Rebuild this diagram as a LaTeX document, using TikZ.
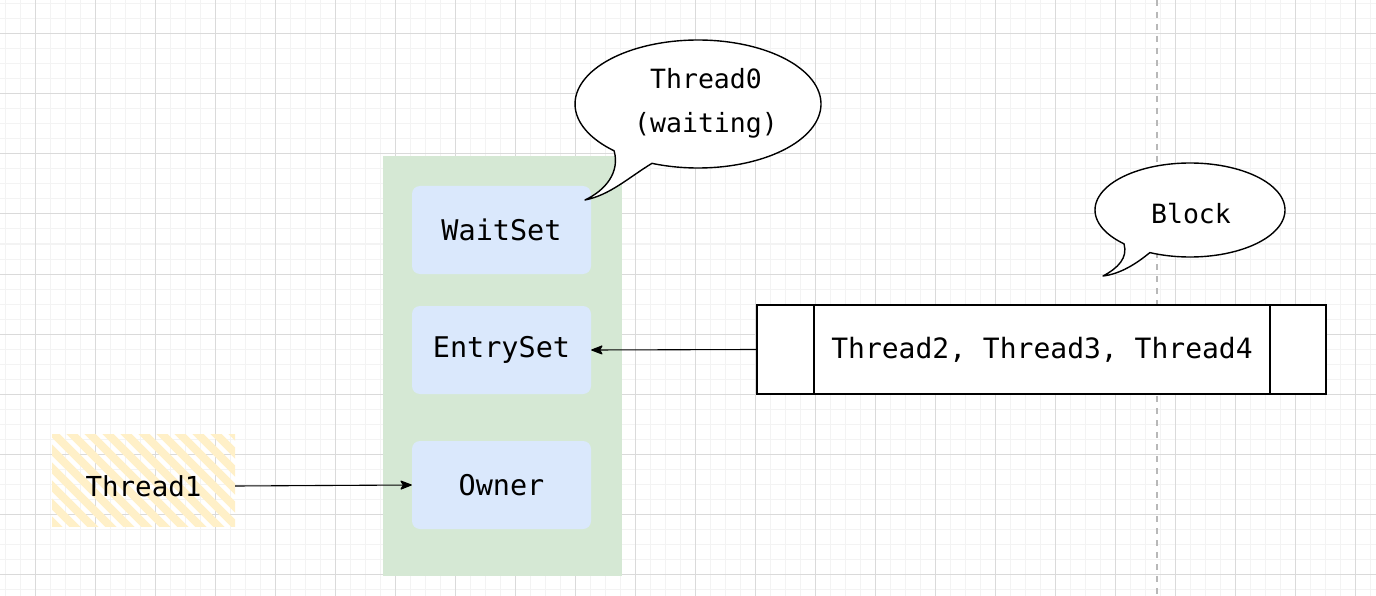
\documentclass[tikz,border=0pt]{standalone}
\usepackage{fontspec}
\newfontfamily\hand{DejaVu Sans Mono}
\usetikzlibrary{arrows.meta}
\definecolor{gridminor}{HTML}{F3F3F3}
\definecolor{gridmajor}{HTML}{DADADA}
\definecolor{greenbg}{HTML}{D5E8D4}
\definecolor{bluebox}{HTML}{DAE8FC}
\definecolor{hatchc}{HTML}{FFF0C8}
\definecolor{dashc}{HTML}{B8B8B8}
\begin{document}
\begin{tikzpicture}[x=1pt,y=-1pt,
  txt/.style={font=\hand\fontsize{28}{44}\selectfont, text=black},
  ctxt/.style={font=\hand\fontsize{26.5}{44}\selectfont, text=black, align=center},
  setbox/.style={font=\hand\fontsize{28.5}{44}\selectfont, text=black, fill=bluebox, rounded corners=8, minimum width=179, minimum height=88, inner sep=0},
  arr/.style={draw=black, line width=1.1pt, -{Stealth[length=13pt,width=10pt,inset=3pt,round]}},
  bubble/.style={draw=black, fill=white, line width=1.4pt, line join=round},
  qbox/.style={draw=black, fill=white, line width=1.4pt}]
\useasboundingbox (0,0) rectangle (1376,596);
\fill[white] (0,0) rectangle (1376,596);
% grid
\foreach \x in {5,20,...,1376} \draw[gridminor, line width=1pt] (\x,0) -- (\x,596);
\foreach \y in {4,19,...,596} \draw[gridminor, line width=1pt] (0,\y) -- (1376,\y);
\foreach \x in {35,95,...,1376} \draw[gridmajor, line width=1pt] (\x,0) -- (\x,596);
\foreach \y in {34,94,...,596} \draw[gridmajor, line width=1pt] (0,\y) -- (1376,\y);
% dashed vertical line
\draw[dashc, line width=1.2pt, dash pattern=on 6pt off 6pt] (1157,0) -- (1157,596);
% green monitor box
\fill[greenbg] (383,156) rectangle (622,576);
% sets
\node[setbox] (waitset) at (501.5,230) {WaitSet};
\node[setbox] (entryset) at (501.5,350) {EntrySet};
\node[setbox] (owner) at (501.5,485) {Owner};
% Thread1 hatched
\begin{scope}
  \clip (52,434) rectangle (235,526);
  \foreach \o in {-60,-42,...,240}
    \draw[hatchc, line width=8pt, line cap=round] (\o,428) -- (\o+104,532);
\end{scope}
\node[font=\hand\fontsize{27.5}{44}\selectfont, minimum width=183, minimum height=92, inner sep=0] (thread1) at (143.5,486) {Thread1};
% queue
\node[qbox, minimum width=569, minimum height=89, inner sep=0] (queue) at (1041.5,349.5) {};
\draw[black, line width=1.4pt] (814,305) -- (814,394);
\draw[black, line width=1.4pt] (1270,305) -- (1270,394);
\node[txt] (qtext) at (1042,350) {Thread2, Thread3, Thread4};
% arrows
\draw[arr] (queue.west) -- (entryset.east);
\draw[arr] (thread1.east) -- (owner.west);
% callout Thread0
\coordinate (tip0) at (585,200);
\draw[bubble] plot[domain=133:472, samples=120, smooth] ({698+123*cos(\x)},{104+64*sin(\x)})
  .. controls (628,178) and (610,195) .. (tip0)
  .. controls (606,190) and (620,172) .. cycle;
\node[ctxt] (thread0) at (706,103) {Thread0\\(waiting)};
% callout Block
\coordinate (tipb) at (1103,276);
\draw[bubble] plot[domain=134:475, samples=120, smooth] ({1190+95*cos(\x)},{210+47*sin(\x)})
  .. controls (1136,264) and (1120,274) .. (tipb)
  .. controls (1118,268) and (1128,258) .. cycle;
\node[ctxt] (block) at (1191,214) {Block};
\end{tikzpicture}
\end{document}
